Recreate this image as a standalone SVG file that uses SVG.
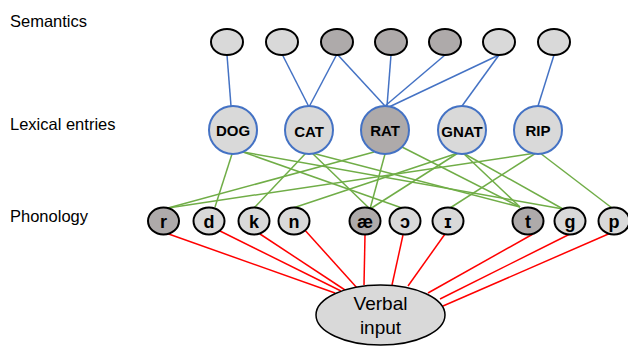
<svg xmlns="http://www.w3.org/2000/svg" width="628" height="346" viewBox="0 0 628 346">
<style>
.lbl{font-family:"Liberation Sans",Arial,sans-serif;font-size:16.5px;fill:#000}
.sem{stroke:#000;stroke-width:2}
.lex{stroke:#4472c4;stroke-width:2}
.ph{stroke:#000;stroke-width:2}
.light{fill:#d9d9d9}
.dark{fill:#aeaaaa}
.lt{font-family:"Liberation Sans",Arial,sans-serif;font-weight:bold;font-size:15px;text-anchor:middle;fill:#000}
.pt{font-family:"Liberation Sans","DejaVu Sans",Arial,sans-serif;font-weight:bold;font-size:18px;text-anchor:middle;fill:#000}
.vt{font-family:"Liberation Sans",Arial,sans-serif;font-size:19px;text-anchor:middle;fill:#000}
.blue{stroke:#4472c4;stroke-width:1.5;fill:none}
.green{stroke:#70ad47;stroke-width:1.5;fill:none}
.red{stroke:#ff0000;stroke-width:1.5;fill:none}
</style>
<rect width="628" height="346" fill="#fff"/>
<text class="lbl" x="10" y="27">Semantics</text>
<text class="lbl" x="10" y="130">Lexical entries</text>
<text class="lbl" x="10" y="222">Phonology</text>
<g id="connectors">
<g class="blue">
<line x1="227" y1="55" x2="231" y2="106"/>
<line x1="282" y1="54" x2="309" y2="107"/>
<line x1="337" y1="54" x2="309" y2="107"/>
<line x1="337" y1="54" x2="385" y2="106"/>
<line x1="391" y1="55" x2="387" y2="106"/>
<line x1="445" y1="55" x2="385" y2="106"/>
<line x1="499" y1="55" x2="389" y2="107"/>
<line x1="499" y1="55" x2="462" y2="106"/>
<line x1="554" y1="55" x2="538" y2="106"/>
</g>
<g class="green">
<line x1="232" y1="154" x2="215" y2="207"/>
<line x1="243" y1="152" x2="402" y2="208"/>
<line x1="243" y1="152" x2="563" y2="209"/>
<line x1="306" y1="153" x2="254" y2="208"/>
<line x1="312" y1="153" x2="370" y2="209"/>
<line x1="312" y1="153" x2="520" y2="207"/>
<line x1="374" y1="152" x2="168" y2="208"/>
<line x1="385" y1="154" x2="370" y2="209"/>
<line x1="402" y1="147" x2="520" y2="207"/>
<line x1="458" y1="153" x2="293" y2="208"/>
<line x1="458" y1="153" x2="370" y2="209"/>
<line x1="463" y1="153" x2="520" y2="207"/>
<line x1="463" y1="153" x2="563" y2="209"/>
<line x1="536" y1="153" x2="168" y2="208"/>
<line x1="536" y1="153" x2="450" y2="208"/>
<line x1="540" y1="153" x2="612" y2="208"/>
</g>
<g class="red">
<line x1="163" y1="232" x2="335" y2="293"/>
<line x1="218" y1="230" x2="341" y2="291"/>
<line x1="260" y1="234" x2="345" y2="290"/>
<line x1="303" y1="228" x2="358" y2="289"/>
<line x1="365" y1="235" x2="364" y2="285"/>
<line x1="403" y1="235" x2="392" y2="285"/>
<line x1="445" y1="234" x2="408" y2="286"/>
<line x1="533" y1="234" x2="428" y2="293"/>
<line x1="570" y1="234" x2="440" y2="299"/>
<line x1="613" y1="232" x2="443" y2="306"/>
</g>
</g>
<g id="sem1"><ellipse class="sem light" cx="227" cy="42" rx="16" ry="13"/></g>
<g id="sem2"><ellipse class="sem light" cx="282" cy="42" rx="16" ry="13"/></g>
<g id="sem3"><ellipse class="sem dark" cx="337" cy="42" rx="16" ry="13"/></g>
<g id="sem4"><ellipse class="sem dark" cx="391" cy="42" rx="16" ry="13"/></g>
<g id="sem5"><ellipse class="sem dark" cx="445" cy="42" rx="16" ry="13"/></g>
<g id="sem6"><ellipse class="sem light" cx="499" cy="42" rx="16" ry="13"/></g>
<g id="sem7"><ellipse class="sem light" cx="554" cy="42" rx="16" ry="13"/></g>
<g id="lex-dog"><circle class="lex light" cx="233" cy="130" r="24"/><text class="lt" x="233" y="135.5">DOG</text></g>
<g id="lex-cat"><circle class="lex light" cx="309" cy="130" r="24"/><text class="lt" x="309" y="136.5">CAT</text></g>
<g id="lex-rat"><circle class="lex dark" cx="385" cy="130" r="24"/><text class="lt" x="385" y="135.5">RAT</text></g>
<g id="lex-gnat"><circle class="lex light" cx="462" cy="130" r="24"/><text class="lt" x="462" y="136.5">GNAT</text></g>
<g id="lex-rip"><circle class="lex light" cx="538" cy="130" r="24"/><text class="lt" x="538" y="135.5">RIP</text></g>
<g id="ph-r"><ellipse class="ph dark" cx="163.5" cy="221" rx="15.5" ry="13.5"/><text class="pt" x="163.5" y="227.5">r</text></g>
<g id="ph-d"><ellipse class="ph light" cx="209" cy="221" rx="15.5" ry="13.5"/><text class="pt" x="209" y="227.5">d</text></g>
<g id="ph-k"><ellipse class="ph light" cx="254" cy="221" rx="15.5" ry="13.5"/><text class="pt" x="254" y="227.5">k</text></g>
<g id="ph-n"><ellipse class="ph light" cx="294" cy="221" rx="15.5" ry="13.5"/><text class="pt" x="294" y="227.5">n</text></g>
<g id="ph-ae"><ellipse class="ph dark" cx="365" cy="221" rx="15.5" ry="13.5"/><text class="pt" x="365" y="227.5">æ</text></g>
<g id="ph-o"><ellipse class="ph light" cx="405" cy="221" rx="15.5" ry="13.5"/><text class="pt" x="405" y="227.5">ɔ</text></g>
<g id="ph-i"><ellipse class="ph light" cx="448" cy="221" rx="15.5" ry="13.5"/><text class="pt" x="448" y="227.5">ɪ</text></g>
<g id="ph-t"><ellipse class="ph dark" cx="528" cy="221" rx="15.5" ry="13.5"/><text class="pt" x="528" y="227.5">t</text></g>
<g id="ph-g"><ellipse class="ph light" cx="570" cy="221" rx="15.5" ry="13.5"/><text class="pt" x="570" y="227.5">g</text></g>
<g id="ph-p"><ellipse class="ph light" cx="614" cy="221" rx="15.5" ry="13.5"/><text class="pt" x="614" y="227.5">p</text></g>
<g id="verbal-input"><ellipse cx="380.5" cy="315" rx="64.5" ry="30" fill="#d9d9d9" stroke="#000" stroke-width="1.5"/><text class="vt" x="380.5" y="310">Verbal</text><text class="vt" x="380.5" y="334">input</text></g>
</svg>
